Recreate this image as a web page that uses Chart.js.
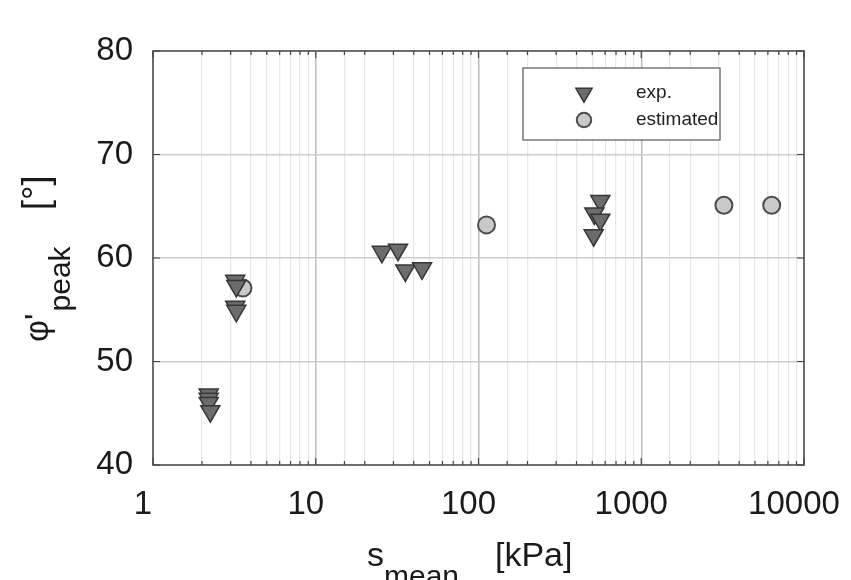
<!DOCTYPE html>
<html>
<head>
<meta charset="utf-8">
<script src="https://cdn.jsdelivr.net/npm/chart.js@4"></script>
<style>
  html, body { margin: 0; padding: 0; background: #fff; }
  canvas { display: block; }
</style>
</head>
<body>
<canvas id="chart" width="851" height="580"></canvas>
<script>
// Measured data (s_mean in kPa, friction angle in degrees)
const expS = [2.2, 2.2, 2.2, 2.25, 3.2, 3.25, 3.2, 3.25, 25.5, 32, 35.5, 45, 560, 515, 560, 510];
const expPhi = [46.8, 46.4, 46.0, 45.2, 57.8, 57.3, 55.3, 54.9, 60.6, 60.8, 58.8, 59.0, 65.5, 64.3, 63.7, 62.2];
const estS = [3.57, 112, 3220, 6330];
const estPhi = [57.1, 63.2, 65.1, 65.1];
const xTickLabels = [1, 10, 100, 1000, 10000];
const yTicks = [40, 50, 60, 70, 80];

const FONT = '"Liberation Sans", Arial, sans-serif';
const TRI_FILL = '#6c6c6c', TRI_EDGE = '#363636';
const CIR_FILL = '#c9c9c9', CIR_EDGE = '#4c4c4c';

function isMajor(v) {
  const l = Math.log10(v);
  return Math.abs(l - Math.round(l)) < 1e-9;
}

// box, inward ticks, legend and axis titles
const decorations = {
  id: 'decorations',
  afterDatasetsDraw(chart) {
    const { ctx, chartArea: a, scales } = chart;
    const x = scales.x, y = scales.y;
    ctx.save();

    // axes box
    ctx.strokeStyle = '#555';
    ctx.lineWidth = 1.6;
    ctx.strokeRect(a.left, a.top, a.right - a.left, a.bottom - a.top);

    // inward ticks
    ctx.lineWidth = 1.2;
    ctx.strokeStyle = '#444';
    x.ticks.forEach(t => {
      const px = x.getPixelForValue(t.value);
      const len = isMajor(t.value) ? 7 : 4;
      ctx.beginPath();
      ctx.moveTo(px, a.bottom); ctx.lineTo(px, a.bottom - len);
      ctx.moveTo(px, a.top); ctx.lineTo(px, a.top + len);
      ctx.stroke();
    });
    yTicks.forEach(v => {
      const py = y.getPixelForValue(v);
      ctx.beginPath();
      ctx.moveTo(a.left, py); ctx.lineTo(a.left + 7, py);
      ctx.moveTo(a.right, py); ctx.lineTo(a.right - 7, py);
      ctx.stroke();
    });

    // legend
    const lx = 523, ly = 68, lw = 197, lh = 72;
    ctx.fillStyle = '#fff';
    ctx.fillRect(lx, ly, lw, lh);
    ctx.strokeStyle = '#555';
    ctx.lineWidth = 1.2;
    ctx.strokeRect(lx, ly, lw, lh);
    chart.data.datasets.forEach((ds, i) => {
      const cy = ly + 25 + i * 27;
      ctx.fillStyle = ds.backgroundColor;
      ctx.strokeStyle = ds.borderColor;
      ctx.lineWidth = ds.borderWidth;
      Chart.helpers.drawPoint(ctx, {
        pointStyle: ds.pointStyle,
        rotation: ds.rotation || 0,
        radius: ds.pointRadius * 0.85,
        borderWidth: ds.borderWidth
      }, 584, cy);
      ctx.fillStyle = '#222';
      ctx.font = '19px ' + FONT;
      ctx.textBaseline = 'middle';
      ctx.textAlign = 'left';
      ctx.fillText(ds.label, 636, cy);
    });

    // x axis title: s_mean [kPa]
    ctx.fillStyle = '#1a1a1a';
    ctx.textBaseline = 'alphabetic';
    ctx.textAlign = 'left';
    ctx.font = '34px ' + FONT;
    ctx.fillText('s', 367, 566);
    ctx.font = '30px ' + FONT;
    ctx.fillText('mean', 384, 586);
    ctx.font = '34px ' + FONT;
    ctx.fillText('[kPa]', 495, 566);

    // y axis title: φ'_peak [°]
    ctx.translate(48, 342);
    ctx.rotate(-Math.PI / 2);
    ctx.font = '34px ' + FONT;
    ctx.fillText("φ'", 0, 0);
    const w = ctx.measureText("φ'").width;
    ctx.font = '30px ' + FONT;
    ctx.fillText('peak', w + 2, 22);
    ctx.font = '36px ' + FONT;
    ctx.fillText('[°]', 132, 0);
    ctx.restore();
  }
};

const expPoints = expS.map((s, i) => ({ x: s, y: expPhi[i] }));
const estPoints = estS.map((s, i) => ({ x: s, y: estPhi[i] }));

new Chart(document.getElementById('chart'), {
  type: 'scatter',
  data: {
    datasets: [
      {
        label: 'exp.',
        data: expPoints,
        pointStyle: 'triangle',
        rotation: 180,
        pointRadius: 11,
        pointHoverRadius: 11,
        backgroundColor: TRI_FILL,
        borderColor: TRI_EDGE,
        borderWidth: 1.5
      },
      {
        label: 'estimated',
        data: estPoints,
        pointStyle: 'circle',
        pointRadius: 8.5,
        pointHoverRadius: 8.5,
        backgroundColor: CIR_FILL,
        borderColor: CIR_EDGE,
        borderWidth: 2
      }
    ]
  },
  options: {
    responsive: false,
    animation: false,
    events: [],
    layout: { padding: { top: 51, right: 47, left: 0, bottom: 0 } },
    plugins: {
      legend: { display: false },
      tooltip: { enabled: false }
    },
    scales: {
      x: {
        type: 'logarithmic',
        min: 1,
        max: 10000,
        border: { display: false },
        grid: {
          drawTicks: false,
          color: ctx => isMajor(ctx.tick.value) ? '#bcbcbc' : '#e6e6e6',
          lineWidth: ctx => isMajor(ctx.tick.value) ? 1.5 : 1.2
        },
        ticks: {
          autoSkip: false,
          maxRotation: 0,
          padding: 20,
          labelOffset: -10,
          color: '#1a1a1a',
          font: { family: FONT, size: 33 },
          callback: v => xTickLabels.includes(v) ? String(v) : ''
        },
        afterFit: s => { s.height = 115; s.paddingLeft = 0; s.paddingRight = 0; }
      },
      y: {
        min: 40,
        max: 80,
        border: { display: false },
        grid: {
          drawTicks: false,
          color: '#cdcdcd',
          lineWidth: 1.5
        },
        ticks: {
          stepSize: 10,
          padding: 20,
          color: '#1a1a1a',
          font: { family: FONT, size: 33 }
        },
        afterFit: s => { s.width = 153; s.paddingTop = 0; s.paddingBottom = 0; }
      }
    }
  },
  plugins: [decorations]
});
</script>
</body>
</html>
